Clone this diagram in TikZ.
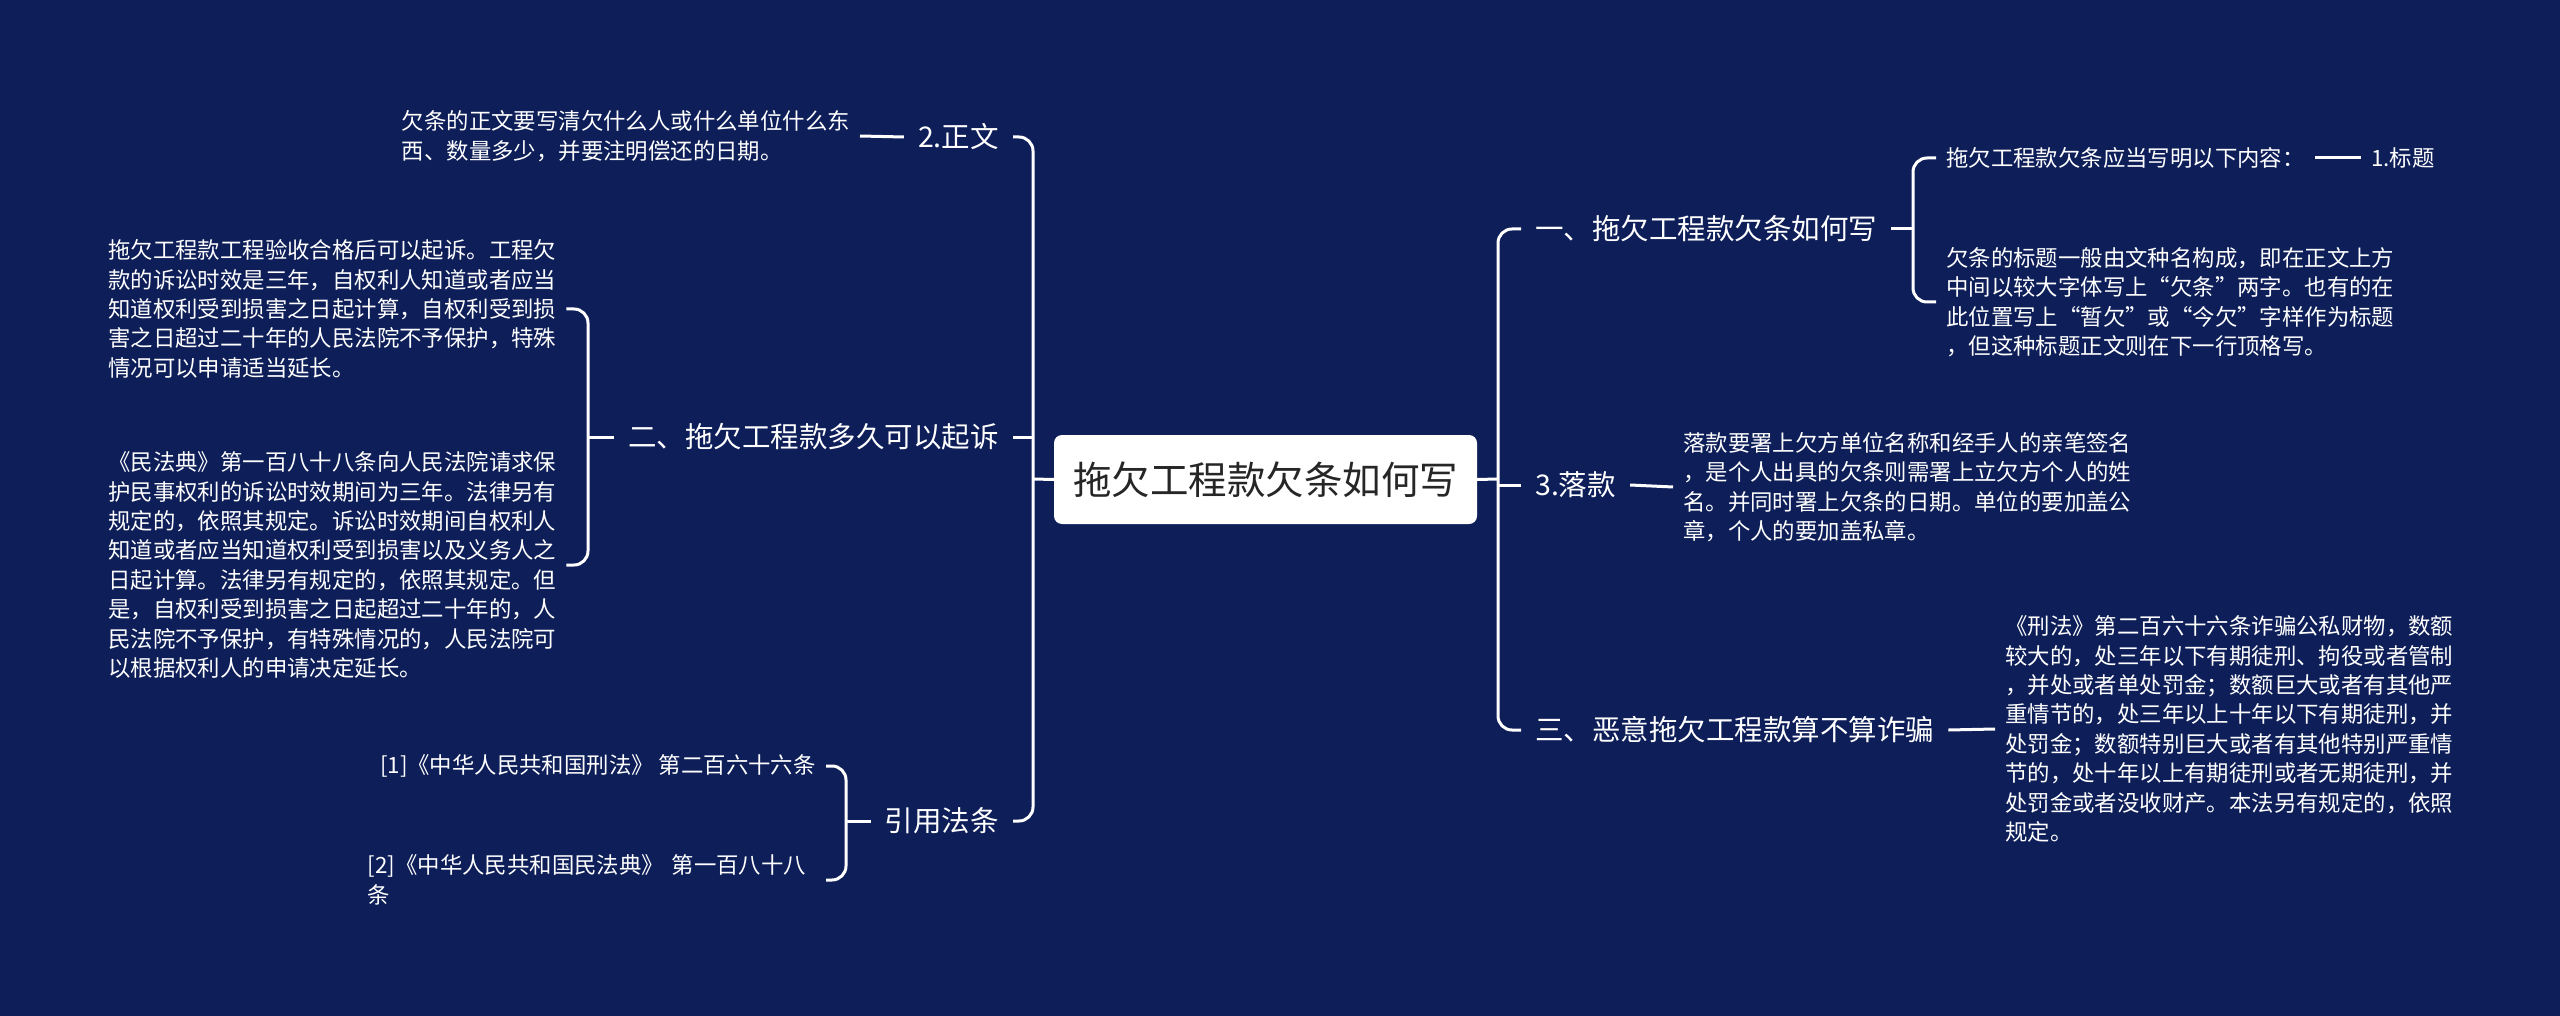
\documentclass[tikz,border=0pt]{standalone}
\usepackage{fontspec}
\setmainfont{Noto Sans CJK SC}
\definecolor{bg}{RGB}{13,30,88}
\definecolor{roottext}{RGB}{38,38,38}
\begin{document}
\begin{tikzpicture}[x=1pt,y=-1pt,
  conn/.style={draw=white, line width=3pt},
  lvlone/.style={text=white, font=\fontsize{28.5}{34}\selectfont, inner xsep=14pt, inner ysep=4pt},
  leaf/.style={text=white, font=\fontsize{22.4}{29.4}\selectfont, align=left, inner xsep=10pt, inner ysep=4pt},
  rootbox/.style={fill=white, rounded corners=8pt, minimum width=423pt, minimum height=89pt, text=roottext, font=\fontsize{38.5}{46}\selectfont}
]
\fill[bg] (0,0) rectangle (2560,1016);
\useasboundingbox (0,0) rectangle (2560,1016);

% root
\node[rootbox] (root) at (1265.5,479.5) {拖欠工程款欠条如何写};

% left level one
\node[lvlone, anchor=east] (zw) at (1013,137) {2.正文};
\node[lvlone, anchor=east] (er) at (1013,437) {二、拖欠工程款多久可以起诉};
\node[lvlone, anchor=east] (yy) at (1013,821) {引用法条};

% right level one
\node[lvlone, anchor=west] (r1) at (1521,229) {一、拖欠工程款欠条如何写};
\node[lvlone, anchor=west] (r2) at (1521,485) {3.落款};
\node[lvlone, anchor=west] (r3) at (1521,730) {三、恶意拖欠工程款算不算诈骗};

% left leaves
\node[leaf, anchor=east] (zwt) at (860,136) {欠条的正文要写清欠什么人或什么单位什么东\\西、数量多少，并要注明偿还的日期。};
\node[leaf, anchor=west] (la) at (98,309) {拖欠工程款工程验收合格后可以起诉。工程欠\\款的诉讼时效是三年，自权利人知道或者应当\\知道权利受到损害之日起计算，自权利受到损\\害之日超过二十年的人民法院不予保护，特殊\\情况可以申请适当延长。};
\node[leaf, anchor=west] (lb) at (98,565) {《民法典》第一百八十八条向人民法院请求保\\护民事权利的诉讼时效期间为三年。法律另有\\规定的，依照其规定。诉讼时效期间自权利人\\知道或者应当知道权利受到损害以及义务人之\\日起计算。法律另有规定的，依照其规定。但\\是，自权利受到损害之日起超过二十年的，人\\民法院不予保护，有特殊情况的，人民法院可\\以根据权利人的申请决定延长。};
\node[leaf, anchor=east] (ca) at (826,766) {[1]《中华人民共和国刑法》 第二百六十六条};
\node[leaf, anchor=east, text width=448pt] (cb) at (826,880) {[2]《中华人民共和国民法典》 第一百八十八\\条};

% right leaves
\node[leaf, anchor=west] (r1a) at (1936,158) {拖欠工程款欠条应当写明以下内容：};
\node[leaf, anchor=west] (bt) at (2361,158) {1.标题};
\node[leaf, anchor=west] (r1b) at (1936,302) {欠条的标题一般由文种名构成，即在正文上方\\中间以较大字体写上“欠条”两字。也有的在\\此位置写上“暂欠”或“今欠”字样作为标题\\，但这种标题正文则在下一行顶格写。};
\node[leaf, anchor=west] (r2t) at (1673,487) {落款要署上欠方单位名称和经手人的亲笔签名\\，是个人出具的欠条则需署上立欠方个人的姓\\名。并同时署上欠条的日期。单位的要加盖公\\章，个人的要加盖私章。};
\node[leaf, anchor=west] (r3t) at (1995,729) {《刑法》第二百六十六条诈骗公私财物，数额\\较大的，处三年以下有期徒刑、拘役或者管制\\，并处或者单处罚金；数额巨大或者有其他严\\重情节的，处三年以上十年以下有期徒刑，并\\处罚金；数额特别巨大或者有其他特别严重情\\节的，处十年以上有期徒刑或者无期徒刑，并\\处罚金或者没收财产。本法另有规定的，依照\\规定。};

% junction coordinates
\coordinate (lt) at (1033,479);
\coordinate (rt) at (1498,479);
\coordinate (bl) at (588,437);
\coordinate (bc) at (846,821);
\coordinate (br) at (1913,229);

% root trunks
\draw[conn] (root.west) -- (lt);
\draw[conn] (root.east) -- (rt);
\draw[conn, rounded corners=14pt] (zw.east) -| (lt) |- (yy.east);
\draw[conn] (er.east) -- (er.east -| lt);
\draw[conn, rounded corners=14pt] (r1.west) -| (rt) |- (r3.west);
\draw[conn] (r2.west) -- (r2.west -| rt);

% left sub connectors
\draw[conn] (zw.west) -- (zwt.east);
\draw[conn, rounded corners=14pt] (la.east) -| (bl) |- (lb.east);
\draw[conn] (er.west) -- (bl);
\draw[conn, rounded corners=14pt] (ca.east) -| (bc) |- (cb.east);
\draw[conn] (yy.west) -- (bc);

% right sub connectors
\draw[conn, rounded corners=14pt] (r1a.west) -| (br) |- (r1b.west);
\draw[conn] (r1.east) -- (br);
\draw[conn] (r1a.east) -- (bt.west);
\draw[conn] (r2.east) -- (r2t.west);
\draw[conn] (r3.east) -- (r3t.west);
\end{tikzpicture}
\end{document}
